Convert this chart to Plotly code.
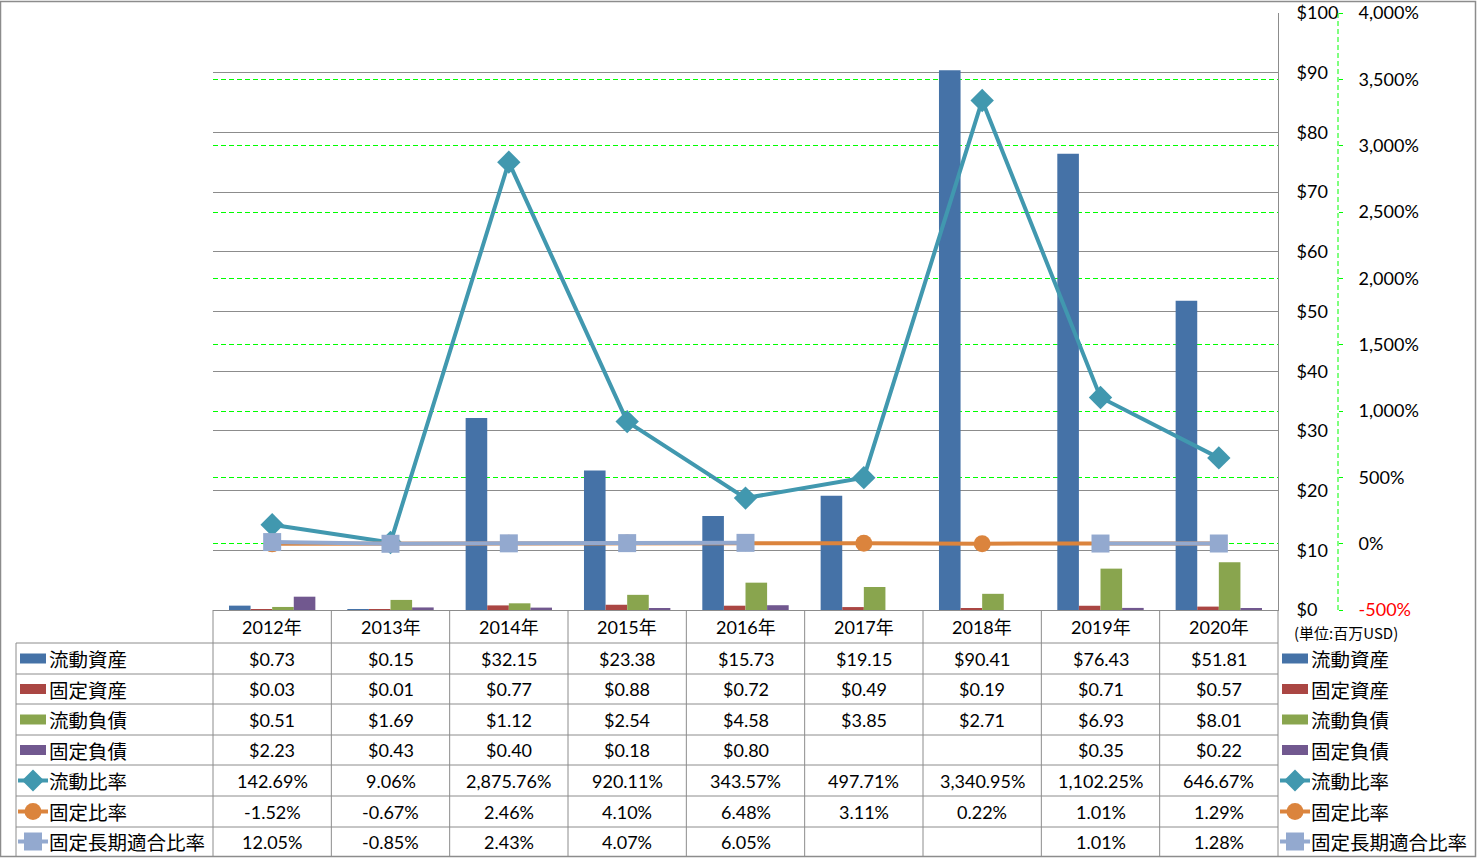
import plotly.graph_objects as go

# ---------------- data ----------------
years = ["2012年", "2013年", "2014年", "2015年", "2016年", "2017年", "2018年", "2019年", "2020年"]
current_assets = [0.73, 0.15, 32.15, 23.38, 15.73, 19.15, 90.41, 76.43, 51.81]
fixed_assets = [0.03, 0.01, 0.77, 0.88, 0.72, 0.49, 0.19, 0.71, 0.57]
current_liab = [0.51, 1.69, 1.12, 2.54, 4.58, 3.85, 2.71, 6.93, 8.01]
fixed_liab = [2.23, 0.43, 0.40, 0.18, 0.80, None, None, 0.35, 0.22]
current_ratio = [142.69, 9.06, 2875.76, 920.11, 343.57, 497.71, 3340.95, 1102.25, 646.67]
fixed_ratio = [-1.52, -0.67, 2.46, 4.10, 6.48, 3.11, 0.22, 1.01, 1.29]
fixed_lt_ratio = [12.05, -0.85, 2.43, 4.07, 6.05, None, None, 1.01, 1.28]

bar_names = ["流動資産", "固定資産", "流動負債", "固定負債"]
line_names = ["流動比率", "固定比率", "固定長期適合比率"]
usd_ticks = [0, 10, 20, 30, 40, 50, 60, 70, 80, 90, 100]
pct_ticks = [-500, 0, 500, 1000, 1500, 2000, 2500, 3000, 3500, 4000]
unit_label = "(単位:百万USD)"

bar_colors = ["#4572A7", "#AA4643", "#89A54E", "#71588F"]
line_colors = ["#4198AF", "#DB843D", "#93A9CF"]
line_symbols = ["diamond", "circle", "square"]
line_msize = [18, 17, 18]

# ---------------- layout geometry (pixels) ----------------
W, H = 1477, 858
L, R, T, B = 213, 139, 13, 248
PW = W - L - R          # paper width (to secondary axis)
PH = H - T - B          # paper height
PLOT_R = 1278           # right edge of plotting area
GRID = "#8C8C8C"
FONT_NUM = "Lato, Noto Sans CJK JP"
FONT_JP = "Noto Sans CJK JP"
NUM_SIZE = 18


def px(x):
    return (x - L) / PW


def py(y):
    return (T + PH - y) / PH


fig = go.Figure()

bar_series = [current_assets, fixed_assets, current_liab, fixed_liab]
for name, vals, col in zip(bar_names, bar_series, bar_colors):
    fig.add_trace(go.Bar(x=years, y=vals, name=name, marker=dict(color=col, line=dict(width=0)),
                         showlegend=False, yaxis="y"))

line_series = [current_ratio, fixed_ratio, fixed_lt_ratio]
for name, vals, col, sym, ms in zip(line_names, line_series, line_colors, line_symbols, line_msize):
    fig.add_trace(go.Scatter(x=years, y=vals, name=name, mode="lines+markers", yaxis="y2",
                             line=dict(color=col, width=4), connectgaps=False,
                             marker=dict(symbol=sym, size=ms, color=col, line=dict(width=0)),
                             showlegend=False))

pct_text = []
for v in pct_ticks:
    t = f"{v:,}%"
    if v < 0:
        t = f"<span style='color:#FF0000'>{t}</span>"
    pct_text.append(t)

fig.update_layout(
    width=W, height=H,
    margin=dict(l=L, r=R, t=T, b=B, autoexpand=False),
    paper_bgcolor="white", plot_bgcolor="white",
    barmode="group", bargap=0.27, bargroupgap=0,
    font=dict(family=FONT_NUM, size=NUM_SIZE, color="#000000"),
    xaxis=dict(domain=[0, (PLOT_R - L) / PW], range=[-0.5, len(years) - 0.5],
               showticklabels=False, ticks="", automargin=False,
               showline=True, linecolor=GRID, linewidth=1, showgrid=False),
    yaxis=dict(range=[0, 100], tickvals=usd_ticks, ticktext=[f"${v}" for v in usd_ticks],
               side="right", showline=True, linecolor=GRID, linewidth=1, automargin=False,
               showgrid=True, gridcolor=GRID, gridwidth=1, zeroline=False,
               ticks="", ticklabelstandoff=14, tickfont=dict(size=NUM_SIZE, family=FONT_NUM)),
    yaxis2=dict(range=[-500, 4000], tickvals=pct_ticks, ticktext=pct_text,
                overlaying="y", side="right", anchor="free", position=1, automargin=False,
                showline=False, showgrid=True, gridcolor="#00FF00", gridwidth=1,
                griddash="5px,3px", zeroline=False,
                ticks="outside", ticklen=4, tickcolor="#00FF00", tickwidth=1,
                ticklabelstandoff=12, tickfont=dict(size=NUM_SIZE, family=FONT_NUM)),
)

shapes = []
ann = []

# secondary axis dashed line
shapes.append(dict(type="line", xref="paper", yref="paper", x0=1, x1=1, y0=0, y1=1,
                   line=dict(color="#00FF00", width=1, dash="5px,3px")))

# ---- table ----
col_edges = [L + k * (PLOT_R - L) / 9 for k in range(10)]
row_lines = [643, 674, 704, 735, 765, 796, 827]
row_centers = [658.5, 689, 719.5, 750, 780.5, 811.5, 841.5]
bottom = 856
left_edge = 16

for xe in col_edges:
    shapes.append(dict(type="line", xref="paper", yref="paper", x0=px(xe), x1=px(xe),
                       y0=py(610), y1=py(bottom), line=dict(color=GRID, width=1)))
shapes.append(dict(type="line", xref="paper", yref="paper", x0=px(left_edge), x1=px(left_edge),
                   y0=py(row_lines[0]), y1=py(bottom), line=dict(color=GRID, width=1)))
for yl in row_lines:
    shapes.append(dict(type="line", xref="paper", yref="paper", x0=px(left_edge), x1=px(PLOT_R),
                       y0=py(yl), y1=py(yl), line=dict(color=GRID, width=1)))

# header
for yr in years:
    ann.append(dict(x=yr, xref="x", y=py(627), yref="paper", text=yr, showarrow=False,
                    xanchor="center", yanchor="middle",
                    font=dict(family=FONT_NUM, size=NUM_SIZE, color="#000")))


def fmt_usd(v):
    return "" if v is None else f"${v:,.2f}"


def fmt_pct(v):
    return "" if v is None else f"{v:,.2f}%"


all_series = bar_series + line_series
fmts = [fmt_usd] * 4 + [fmt_pct] * 3
for r, (vals, f) in enumerate(zip(all_series, fmts)):
    for yr, v in zip(years, vals):
        t = f(v)
        if t:
            ann.append(dict(x=yr, xref="x", y=py(row_centers[r]), yref="paper", text=t,
                            showarrow=False, xanchor="center", yanchor="middle",
                            font=dict(family=FONT_NUM, size=NUM_SIZE, color="#000")))

# legend symbols + labels (left table and right legend)
all_names = bar_names + line_names


def legend_entry(r, sx0, sx1, tx):
    cy = row_centers[r]
    if r < 4:
        shapes.append(dict(type="rect", xref="paper", yref="paper", x0=px(sx0 + 2), x1=px(sx1 - 2),
                           y0=py(cy - 5), y1=py(cy + 5), line=dict(width=0),
                           fillcolor=bar_colors[r]))
    else:
        i = r - 4
        col = line_colors[i]
        shapes.append(dict(type="line", xref="paper", yref="paper", x0=px(sx0), x1=px(sx1),
                           y0=py(cy), y1=py(cy), line=dict(color=col, width=4)))
        cx = (sx0 + sx1) / 2
        if i == 0:
            h = 11
            path = (f"M {px(cx - h)},{py(cy)} L {px(cx)},{py(cy - h)} "
                    f"L {px(cx + h)},{py(cy)} L {px(cx)},{py(cy + h)} Z")
            shapes.append(dict(type="path", xref="paper", yref="paper", path=path,
                               fillcolor=col, line=dict(width=0)))
        elif i == 1:
            h = 8.5
            shapes.append(dict(type="circle", xref="paper", yref="paper", x0=px(cx - h), x1=px(cx + h),
                               y0=py(cy - h), y1=py(cy + h), fillcolor=col, line=dict(width=0)))
        else:
            h = 9
            shapes.append(dict(type="rect", xref="paper", yref="paper", x0=px(cx - h), x1=px(cx + h),
                               y0=py(cy - h), y1=py(cy + h), fillcolor=col, line=dict(width=0)))
    ann.append(dict(x=px(tx), xref="paper", y=py(cy), yref="paper", text=all_names[r],
                    showarrow=False, xanchor="left", yanchor="middle",
                    font=dict(family=FONT_JP, size=19.5, color="#000")))


for r in range(7):
    legend_entry(r, 18, 48, 47)
    legend_entry(r, 1280, 1310, 1309)

ann.append(dict(x=px(1292), xref="paper", y=py(632), yref="paper", text=unit_label, showarrow=False,
                xanchor="left", yanchor="middle", font=dict(family=FONT_JP, size=15, color="#000")))

# outer border
shapes.append(dict(type="rect", xref="paper", yref="paper", x0=px(0.5), x1=px(1475.5),
                   y0=py(1.5), y1=py(856.5), line=dict(color=GRID, width=1.5)))

fig.update_layout(shapes=shapes, annotations=ann)
fig.write_html("out.html", config={"displayModeBar": False},
               post_script="document.body.style.margin='0';document.body.style.padding='0';"
                           "document.body.style.overflow='hidden';")
